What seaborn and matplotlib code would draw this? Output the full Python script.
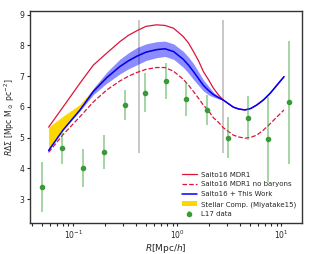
import numpy as np
import pandas as pd
import seaborn as sns
import matplotlib
matplotlib.use("Agg")
import matplotlib.pyplot as plt

# radius grid for the model curves (Mpc/h)
r_model = [0.058, 0.08, 0.116, 0.156, 0.21, 0.28, 0.34, 0.41, 0.5, 0.63,
           0.76, 0.92, 1.14, 1.28, 1.43, 1.6, 1.78, 2.0, 2.22, 2.5,
           2.77, 3.46, 3.9, 4.48, 5.1, 5.8, 6.7, 7.8, 10.6]
saito_mdr1 = [5.34, 6.0, 6.77, 7.36, 7.75, 8.12, 8.33, 8.48, 8.62, 8.67,
              8.65, 8.56, 8.29, 8.08, 7.80, 7.50, 7.15, 6.88, 6.61, 6.38,
              6.22, 5.99, 5.93, 5.90, 5.95, 6.06, 6.22, 6.44, 6.98]
saito_nobaryon = [4.52, 5.10, 5.68, 6.16, 6.55, 6.84, 7.0, 7.12, 7.22, 7.28,
                  7.28, 7.16, 6.90, 6.71, 6.50, 6.28, 6.06, 5.87, 5.65, 5.49,
                  5.32, 5.08, 5.02, 4.98, 5.01, 5.08, 5.24, 5.45, 5.90]
this_work = [4.58, 5.25, 5.90, 6.50, 6.95, 7.31, 7.50, 7.65, 7.78, 7.86,
             7.89, 7.80, 7.55, 7.36, 7.15, 6.92, 6.70, 6.53, 6.40, 6.30,
             6.22, 5.99, 5.93, 5.90, 5.95, 6.06, 6.22, 6.44, 6.98]
this_work_err = [0.0, 0.0, 0.03, 0.10, 0.18, 0.24, 0.26, 0.28, 0.27, 0.26,
                 0.25, 0.25, 0.26, 0.26, 0.26, 0.22, 0.18, 0.14, 0.08, 0.04,
                 0.0, 0.0, 0.0, 0.0, 0.0, 0.0, 0.0, 0.0, 0.0]
stellar = [0.76, 0.45, 0.18, 0.09, 0.07, 0.06, 0.06, 0.06, 0.05, 0.05,
           0.04, 0.03, 0.02, 0.015, 0.01, 0.005, 0.0, 0.0, 0.0, 0.0,
           0.0, 0.0, 0.0, 0.0, 0.0, 0.0, 0.0, 0.0, 0.0]

# L17 data points
r_data = [0.0503, 0.0787, 0.1247, 0.1986, 0.314, 0.489, 0.772, 1.213,
          1.918, 3.05, 4.82, 7.50, 11.94]
rds_data = [3.39, 4.66, 4.01, 4.53, 6.06, 6.46, 6.85, 6.25, 5.90, 5.00,
            5.63, 4.94, 6.15]
rds_err = [0.82, 0.53, 0.61, 0.56, 0.48, 0.64, 0.58, 0.55, 0.48, 0.67,
           0.72, 1.38, 2.0]

# grey vertical bars
r_grey = [0.428, 2.78]
grey_lo = [4.49, 4.49]
grey_hi = [8.83, 8.83]

sns.set_style("ticks")
plt.rcParams["font.family"] = ["DejaVu Sans"]

model = pd.DataFrame({"R": r_model, "mdr1": saito_mdr1,
                      "nobar": saito_nobaryon, "work": this_work})
lo = np.array(this_work) - np.array(this_work_err)
hi = np.array(this_work) + np.array(this_work_err)
top_star = np.array(this_work) + np.array(stellar)

fig = plt.figure(figsize=(3.13, 2.54), dpi=100)
ax = fig.add_axes([0.0958, 0.122, 0.8691, 0.8347])
ax.set_xscale("log")

ax.vlines(r_grey, grey_lo, grey_hi, color="grey", alpha=0.55, lw=1.1, zorder=1)

ax.fill_between(r_model, this_work, top_star, color="gold", lw=0,
                zorder=2, label="Stellar Comp. (Miyatake15)")
ax.fill_between(r_model, lo, hi, color="blue", alpha=0.45, lw=0, zorder=3)

sns.lineplot(data=model, x="R", y="mdr1", ax=ax, color="crimson", lw=0.9,
             label="Saito16 MDR1", zorder=4)
sns.lineplot(data=model, x="R", y="nobar", ax=ax, color="crimson", lw=0.9,
             linestyle="--", label="Saito16 MDR1 no baryons", zorder=4)
sns.lineplot(data=model, x="R", y="work", ax=ax, color="blue", lw=1.1,
             label="Saito16 + This Work", zorder=5)

ax.errorbar(r_data, rds_data, yerr=rds_err, fmt="o", color="#3a9a3a",
            ms=3, ecolor=(0.25, 0.65, 0.25, 0.6), elinewidth=1.1,
            capsize=0, zorder=6, label="L17 data")

ax.set_xlim(0.0384, 15.8)
ax.set_ylim(2.22, 9.12)
ax.set_yticks([3, 4, 5, 6, 7, 8, 9])
ax.set_xlabel("$R$[Mpc/$h$]", fontsize=6.5, labelpad=1)
ax.set_ylabel(r"$R\Delta\Sigma$ [Mpc M$_\odot$ pc$^{-2}$]", fontsize=5.6,
              labelpad=2)
ax.tick_params(axis="both", which="major", labelsize=5.5, length=2.5,
               width=0.8, pad=1.5)
ax.tick_params(axis="both", which="minor", length=2.5, width=0.8)
for s in ax.spines.values():
    s.set_linewidth(1.0)
    s.set_color("#333333")

h, l = ax.get_legend_handles_labels()
order = ["Saito16 MDR1", "Saito16 MDR1 no baryons", "Saito16 + This Work",
         "Stellar Comp. (Miyatake15)", "L17 data"]
hd = dict(zip(l, h))
ax.legend([hd[k] for k in order], order, loc="lower right", frameon=False,
          fontsize=5, labelspacing=0.55, handlelength=2.2, handletextpad=0.6,
          borderaxespad=0.4)

fig.savefig("out.png", dpi=100)
